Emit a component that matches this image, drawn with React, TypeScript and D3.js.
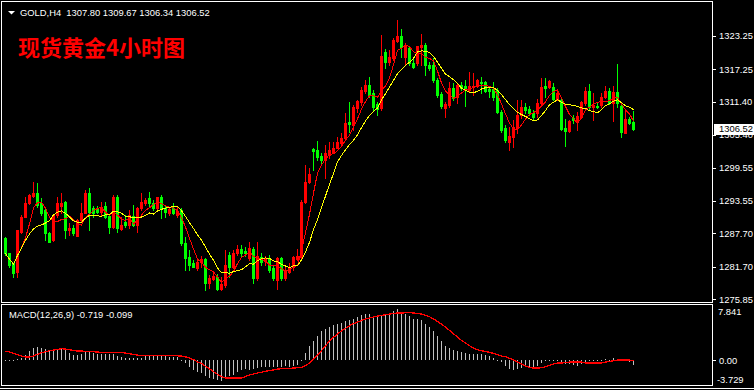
import React from 'react';
import * as d3 from 'd3';

const opens = [
1286.8, 1284.1, 1282.3, 1280.8, 1288.0, 1290.7, 1293.1, 1294.5, 1295.0, 1293.1,
1291.9, 1287.8, 1286.5, 1291.0, 1292.7, 1293.3, 1288.3, 1288.6, 1287.3, 1290.1,
1291.4, 1295.0, 1292.2, 1292.1, 1291.6, 1292.6, 1290.8, 1288.9, 1294.3, 1288.5,
1289.8, 1289.2, 1290.8, 1289.2, 1292.2, 1293.1, 1294.0, 1293.1, 1292.2, 1294.3,
1292.2, 1291.3, 1292.2, 1291.0, 1291.9, 1285.9, 1283.5, 1282.4, 1281.4, 1282.6,
1283.1, 1278.7, 1279.5, 1279.8, 1277.7, 1278.4, 1283.8, 1281.7, 1284.1, 1284.9,
1284.5, 1283.2, 1284.9, 1279.6, 1283.4, 1282.8, 1283.2, 1281.4, 1279.3, 1283.2,
1279.6, 1280.8, 1281.7, 1283.1, 1283.5, 1293.4, 1297.0, 1302.9, 1302.7, 1301.7,
1300.9, 1301.8, 1302.4, 1303.1, 1303.9, 1304.8, 1307.7, 1307.2, 1310.2, 1311.3,
1313.3, 1314.4, 1312.9, 1311.0, 1310.2, 1320.4, 1318.6, 1319.2, 1322.3, 1323.3,
1319.5, 1321.1, 1318.3, 1318.3, 1321.3, 1321.6, 1318.0, 1318.0, 1315.3, 1312.8,
1310.3, 1310.8, 1313.8, 1312.2, 1314.4, 1314.2, 1313.5, 1314.1, 1314.2, 1315.0,
1315.0, 1313.7, 1313.7, 1313.5, 1309.6, 1306.6, 1304.2, 1305.0, 1306.6, 1309.0,
1310.5, 1310.1, 1309.4, 1309.4, 1311.1, 1314.2, 1314.0, 1314.1, 1311.9, 1311.7,
1306.6, 1306.2, 1308.4, 1308.0, 1308.6, 1311.1, 1313.4, 1310.5, 1310.7, 1310.8,
1312.2, 1313.4, 1311.1, 1313.2, 1310.6, 1305.8, 1308.3, 1307.8
];

const highs = [
1287.1, 1284.2, 1282.4, 1288.4, 1291.0, 1294.3, 1294.8, 1296.9, 1296.7, 1294.0,
1292.2, 1288.0, 1291.2, 1294.3, 1295.0, 1293.6, 1289.5, 1289.2, 1290.3, 1293.1,
1295.5, 1295.8, 1292.6, 1292.6, 1293.4, 1293.4, 1291.0, 1294.6, 1294.6, 1290.7,
1291.0, 1291.9, 1292.8, 1292.5, 1294.9, 1294.0, 1295.2, 1293.7, 1294.3, 1294.6,
1292.8, 1292.5, 1293.1, 1292.4, 1292.2, 1287.1, 1284.7, 1282.9, 1282.9, 1283.6,
1283.2, 1280.2, 1280.5, 1280.4, 1279.9, 1284.7, 1284.4, 1284.7, 1285.6, 1285.6,
1285.2, 1286.2, 1285.3, 1286.2, 1284.1, 1283.6, 1283.8, 1282.0, 1283.4, 1283.5,
1281.7, 1282.4, 1283.6, 1284.9, 1293.7, 1300.0, 1299.5, 1303.1, 1304.3, 1302.2,
1303.6, 1304.2, 1304.2, 1305.1, 1305.8, 1309.3, 1311.3, 1310.8, 1311.7, 1314.1,
1315.3, 1315.9, 1313.5, 1311.4, 1323.4, 1320.9, 1320.7, 1322.8, 1326.1, 1324.6,
1321.9, 1321.3, 1319.2, 1321.5, 1323.7, 1321.9, 1318.6, 1319.2, 1315.6, 1313.2,
1311.4, 1315.0, 1314.7, 1314.7, 1315.0, 1315.3, 1316.8, 1316.6, 1315.5, 1315.8,
1315.2, 1314.1, 1315.0, 1313.8, 1309.9, 1307.2, 1306.9, 1308.1, 1311.7, 1311.7,
1311.2, 1310.6, 1309.9, 1311.9, 1315.6, 1315.6, 1315.3, 1314.8, 1313.5, 1312.0,
1308.3, 1308.1, 1309.0, 1309.6, 1311.6, 1314.1, 1314.6, 1312.9, 1311.1, 1312.9,
1314.2, 1313.8, 1314.2, 1318.2, 1311.0, 1310.1, 1308.7, 1309.67
];

const lows = [
1283.8, 1281.7, 1279.9, 1279.9, 1287.8, 1290.6, 1293.0, 1294.3, 1292.5, 1291.0,
1286.5, 1286.1, 1286.3, 1290.7, 1291.3, 1286.8, 1287.4, 1287.4, 1287.2, 1289.8,
1291.3, 1288.3, 1290.7, 1291.4, 1291.0, 1290.4, 1287.7, 1288.6, 1288.0, 1288.3,
1288.9, 1288.6, 1289.1, 1288.0, 1291.9, 1292.8, 1292.5, 1291.9, 1292.0, 1290.4,
1290.7, 1291.0, 1291.2, 1290.7, 1285.6, 1281.1, 1281.1, 1281.6, 1281.1, 1281.7,
1277.5, 1277.8, 1279.3, 1277.5, 1277.5, 1278.1, 1279.9, 1281.4, 1283.8, 1283.5,
1283.6, 1283.0, 1278.7, 1279.3, 1282.0, 1282.0, 1280.8, 1279.3, 1277.7, 1279.3,
1279.3, 1280.6, 1281.1, 1282.9, 1283.2, 1293.2, 1296.8, 1299.1, 1300.9, 1300.4,
1297.6, 1301.2, 1302.1, 1303.0, 1303.6, 1304.5, 1306.0, 1306.3, 1309.6, 1310.8,
1312.9, 1312.3, 1309.9, 1309.0, 1309.9, 1317.4, 1318.0, 1318.9, 1322.2, 1319.5,
1318.0, 1318.0, 1317.4, 1318.0, 1318.0, 1316.2, 1317.1, 1315.0, 1312.3, 1310.3,
1308.7, 1310.5, 1311.7, 1311.1, 1313.5, 1310.6, 1313.4, 1312.6, 1314.1, 1312.9,
1313.2, 1312.3, 1311.7, 1309.3, 1306.0, 1304.2, 1302.7, 1303.3, 1305.7, 1308.4,
1309.3, 1309.0, 1308.3, 1308.6, 1311.0, 1312.2, 1313.8, 1311.7, 1311.7, 1306.3,
1303.4, 1306.0, 1307.5, 1306.3, 1308.4, 1310.8, 1310.0, 1308.1, 1310.2, 1310.5,
1312.0, 1311.0, 1308.0, 1310.5, 1305.0, 1305.7, 1307.4, 1306.34
];

const closes = [
1284.1, 1282.0, 1280.5, 1288.3, 1290.7, 1293.1, 1294.6, 1294.9, 1292.8, 1291.3,
1287.7, 1286.2, 1291.0, 1293.1, 1293.1, 1288.3, 1288.6, 1287.7, 1290.1, 1291.4,
1295.0, 1291.6, 1291.3, 1291.6, 1292.5, 1290.6, 1288.9, 1294.3, 1288.6, 1289.2,
1289.2, 1291.0, 1289.2, 1292.2, 1293.4, 1293.7, 1293.1, 1292.2, 1294.2, 1292.2,
1291.6, 1292.1, 1291.3, 1291.8, 1285.9, 1283.2, 1282.0, 1281.7, 1282.6, 1283.1,
1278.7, 1279.6, 1280.0, 1277.7, 1278.6, 1282.0, 1281.7, 1284.2, 1284.9, 1284.1,
1284.1, 1285.0, 1279.6, 1283.6, 1282.6, 1283.1, 1281.1, 1279.6, 1283.2, 1279.6,
1281.1, 1281.7, 1283.4, 1283.6, 1293.4, 1297.0, 1298.4, 1302.5, 1301.5, 1300.9,
1302.1, 1302.7, 1303.1, 1304.2, 1304.9, 1307.5, 1307.4, 1310.5, 1311.5, 1313.5,
1314.4, 1312.6, 1310.5, 1310.1, 1319.6, 1318.6, 1319.5, 1322.5, 1323.3, 1321.3,
1321.5, 1318.3, 1317.7, 1321.4, 1321.6, 1318.0, 1317.4, 1315.3, 1312.6, 1310.6,
1311.0, 1313.8, 1312.0, 1314.4, 1313.8, 1313.7, 1314.2, 1314.2, 1315.3, 1314.7,
1313.4, 1313.4, 1312.3, 1309.6, 1306.3, 1304.5, 1305.2, 1306.9, 1309.0, 1310.5,
1309.9, 1309.3, 1308.6, 1311.2, 1314.1, 1313.8, 1315.2, 1311.9, 1313.0, 1306.5,
1306.2, 1308.0, 1308.1, 1308.8, 1311.4, 1313.4, 1310.5, 1310.8, 1310.4, 1312.2,
1313.4, 1311.2, 1313.2, 1311.1, 1306.0, 1308.3, 1307.6, 1306.52
];

const macdMain = [
0.1, -0.05, -0.15, 0.2, 0.38, 0.71, 1.29, 1.76, 1.9, 1.81,
1.62, 1.43, 1.52, 1.62, 1.62, 1.43, 1.05, 0.76, 0.76, 0.95,
1.19, 1.19, 1.05, 0.95, 0.95, 0.95, 0.86, 0.86, 0.67, 0.48,
0.38, 0.38, 0.29, 0.29, 0.38, 0.57, 0.76, 0.76, 0.67, 0.57,
0.6, 0.55, 0.55, 0.5, 0.05, -0.38, -0.95, -1.33, -1.67, -1.81,
-2.29, -2.52, -2.67, -2.86, -3.0, -2.67, -2.29, -2.14, -1.71, -1.43,
-1.24, -1.33, -1.24, -1.1, -0.95, -1.0, -0.95, -0.95, -0.95, -0.95,
-0.86, -0.95, -0.8, -0.6, 0.0, 1.0, 2.0, 2.8, 3.5, 4.24,
4.52, 4.81, 5.1, 5.24, 5.38, 5.67, 5.81, 5.95, 6.24, 6.52,
6.67, 6.67, 6.38, 6.24, 6.38, 6.67, 6.81, 7.1, 7.3, 6.95,
6.67, 6.38, 5.95, 5.95, 5.81, 5.24, 4.81, 4.24, 3.52, 2.81,
2.1, 1.81, 1.52, 1.38, 1.24, 1.1, 0.95, 0.95, 0.95, 0.95,
0.81, 0.67, 0.38, 0.1, -0.29, -0.86, -1.24, -1.43, -1.24, -1.14,
-0.95, -0.95, -0.95, -0.76, -0.38, 0.05, 0.1, 0.1, 0.1, -0.19,
-0.48, -0.57, -0.67, -0.76, -0.57, -0.19, -0.1, 0.1, 0.1, 0.0,
0.19, 0.1, 0.38, 0.19, 0.0, -0.1, -0.19, -0.719
];

const macdSignal = [
1.33, 1.19, 1.0, 0.81, 0.62, 0.48, 0.48, 0.62, 0.86, 1.1,
1.24, 1.38, 1.48, 1.57, 1.67, 1.62, 1.52, 1.43, 1.33, 1.33,
1.29, 1.29, 1.24, 1.19, 1.14, 1.14, 1.14, 1.14, 1.14, 1.14,
1.05, 0.95, 0.86, 0.75, 0.68, 0.65, 0.65, 0.65, 0.65, 0.65,
0.65, 0.65, 0.65, 0.65, 0.62, 0.5, 0.35, 0.1, -0.2, -0.45,
-0.85, -1.2, -1.6, -2.0, -2.3, -2.5, -2.52, -2.52, -2.52, -2.5,
-2.3, -2.1, -1.95, -1.8, -1.7, -1.55, -1.45, -1.35, -1.25, -1.19,
-1.15, -1.12, -1.1, -1.05, -1.0, -0.76, -0.38, 0.2, 0.8, 1.38,
2.1, 2.76, 3.29, 3.76, 4.24, 4.57, 4.95, 5.24, 5.48, 5.71,
5.9, 6.05, 6.19, 6.33, 6.43, 6.52, 6.62, 6.71, 6.76, 6.76,
6.81, 6.86, 6.76, 6.71, 6.62, 6.43, 6.24, 5.9, 5.57, 5.19,
4.76, 4.29, 3.81, 3.33, 2.86, 2.48, 2.1, 1.76, 1.52, 1.38,
1.29, 1.14, 1.0, 0.81, 0.62, 0.52, 0.29, 0.05, -0.24, -0.52,
-0.81, -1.0, -1.1, -1.1, -1.05, -0.9, -0.71, -0.52, -0.38, -0.38,
-0.29, -0.24, -0.24, -0.24, -0.24, -0.38, -0.38, -0.38, -0.38, -0.38,
-0.24, -0.14, -0.05, 0.05, 0.05, 0.05, 0.05, -0.099
];

const priceTicks = [1323.25, 1317.25, 1311.4, 1305.4, 1299.55, 1293.55, 1287.7, 1281.7, 1275.85];
const macdMax = 7.841;
const macdMin = -3.729;
const lastPrice = 1306.52;
const headerText = 'GOLD,H4  1307.80 1309.67 1306.34 1306.52';
const chartTitle = '现货黄金4小时图';
const macdLabel = 'MACD(12,26,9) -0.719 -0.099';
const fastPeriod = 5;
const slowPeriod = 10;

const W = 754;
const H = 390;
const PLOT_R = 712;
const FONT = '"Liberation Sans", Arial, sans-serif';
const FS = 9.4;

function sma(values: number[], period: number): number[] {
  return values.map((_, i) => {
    const s = Math.max(0, i - period + 1);
    return d3.mean(values.slice(s, i + 1)) as number;
  });
}

export default function App() {
  const n = closes.length;
  const x = d3.scaleLinear().domain([0, n - 1]).range([5, 5 + 4 * (n - 1)]);
  const y = d3.scaleLinear().domain([1275.85, 1323.25]).range([299.3, 36]);
  const yM = d3.scaleLinear().domain([macdMin, macdMax]).range([386.5, 305.5]);

  const fast = sma(closes, fastPeriod);
  const slow = sma(closes, slowPeriod);
  const lineP = d3.line<number>().x((_, i) => x(i) + 0.5).y((d) => y(d));
  const lineM = d3.line<number>().x((_, i) => x(i) + 0.5).y((d) => yM(d));

  const candles = closes.map((c, i) => {
    const o = opens[i];
    const cx = Math.round(x(i));
    const up = c >= o;
    const col = up ? '#ff0000' : '#00ff00';
    const top = Math.round(y(Math.max(o, c)));
    const bot = Math.round(y(Math.min(o, c)));
    const hy = Math.round(y(highs[i]));
    const ly = Math.round(y(lows[i]));
    return (
      <g key={i}>
        <rect x={cx} y={hy} width={1} height={Math.max(1, ly - hy + 1)} fill={col} />
        <rect x={cx - 1} y={top} width={3} height={Math.max(1, bot - top + 1)} fill={col} />
      </g>
    );
  });

  const zeroY = Math.round(yM(0));
  const bars = macdMain.map((v, i) => {
    const cx = Math.round(x(i));
    const vy = Math.round(yM(v));
    const y0 = Math.min(zeroY, vy);
    const h = Math.max(1, Math.abs(vy - zeroY));
    return <rect key={i} x={cx} y={y0} width={1} height={h} fill="#c0c0c0" />;
  });

  return (
    <svg width={W} height={H} style={{ position: 'absolute', left: 0, top: 0, background: '#000' }}
      fontFamily={FONT}>
      <defs>
        <clipPath id="mainClip"><rect x={2} y={2} width={PLOT_R - 2} height={300} /></clipPath>
        <clipPath id="macdClip"><rect x={2} y={305} width={PLOT_R - 2} height={80} /></clipPath>
      </defs>
      <rect x={0} y={0} width={W} height={H} fill="#000" />
      {/* frames */}
      <g fill="none" stroke="#fff" strokeWidth={1} shapeRendering="crispEdges">
        <rect x={1.5} y={1.5} width={PLOT_R - 1} height={301} />
        <rect x={1.5} y={304.5} width={PLOT_R - 1} height={81} />
        <line x1={0} x2={W} y1={388.5} y2={388.5} />
      </g>
      {/* candles */}
      <g clipPath="url(#mainClip)" shapeRendering="crispEdges">
        {candles}
        <path d={lineP(fast) || ''} fill="none" stroke="#ff0000" strokeWidth={1} />
        <path d={lineP(slow) || ''} fill="none" stroke="#ffff00" strokeWidth={1} />
      </g>
      {/* header */}
      <polygon points="8,11 15,11 11.5,14.5" fill="#fff" />
      <text x={20} y={16} fill="#fff" fontSize={FS} style={{ whiteSpace: 'pre' }}>{headerText}</text>
      <text x={18} y={56} fill="#ff0000" fontSize={22} fontWeight="bold"
        fontFamily={'"Noto Sans CJK SC", sans-serif'}>{chartTitle}</text>
      {/* price axis */}
      <g shapeRendering="crispEdges">
        {priceTicks.map((t) => (
          <g key={t}>
            <line x1={712} x2={716} y1={Math.round(y(t)) + 0.5} y2={Math.round(y(t)) + 0.5} stroke="#fff" />
            <text x={719} y={y(t)} dy="0.35em" fill="#fff" fontSize={FS}>{t.toFixed(2)}</text>
          </g>
        ))}
        <rect x={714} y={Math.round(y(lastPrice)) - 5} width={40} height={11} fill="#fff" />
        <text x={719} y={y(lastPrice)} dy="0.35em" fill="#000" fontSize={FS}>{lastPrice.toFixed(2)}</text>
      </g>
      {/* MACD */}
      <g clipPath="url(#macdClip)" shapeRendering="crispEdges">
        {bars}
        <path d={lineM(macdSignal) || ''} fill="none" stroke="#ff0000" strokeWidth={1.3} />
      </g>
      <text x={9} y={318} fill="#fff" fontSize={FS}>{macdLabel}</text>
      <line x1={712} x2={716} y1={zeroY + 0.5} y2={zeroY + 0.5} stroke="#fff" shapeRendering="crispEdges" />
      <text x={718} y={311.5} dy="0.35em" fill="#fff" fontSize={FS}>{macdMax.toFixed(3)}</text>
      <text x={719} y={yM(0)} dy="0.35em" fill="#fff" fontSize={FS}>{(0).toFixed(2)}</text>
      <text x={717} y={379.5} dy="0.35em" fill="#fff" fontSize={FS}>{macdMin.toFixed(3)}</text>
    </svg>
  );
}
